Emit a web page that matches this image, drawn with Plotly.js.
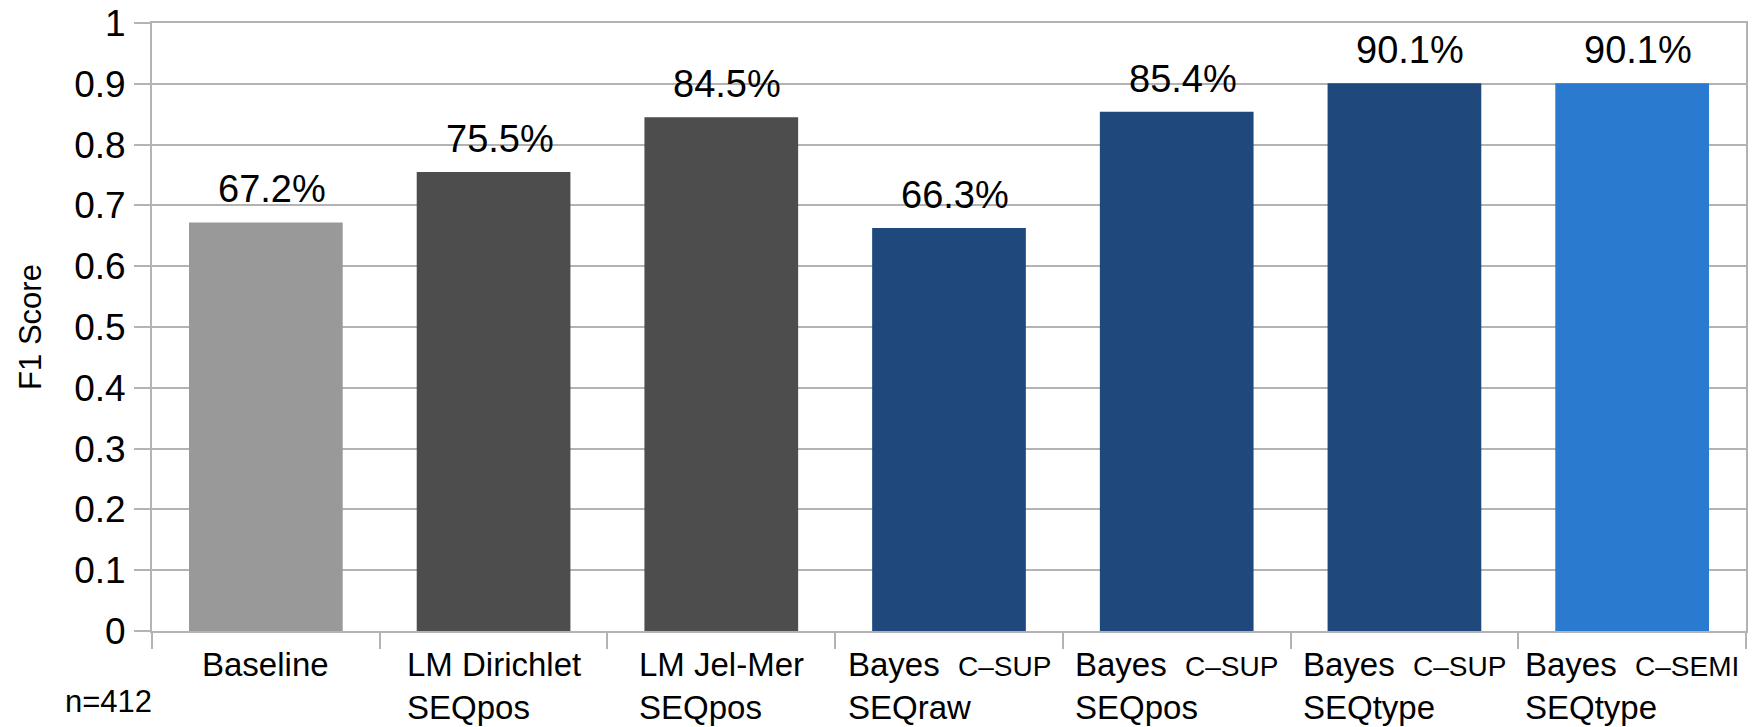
<!DOCTYPE html>
<html>
<head>
<meta charset="utf-8">
<script src="https://cdn.plot.ly/plotly-3.0.1.min.js"></script>
<style>html,body{margin:0;padding:0;background:#fff;}#chart{width:1761px;height:727px;}</style>
</head>
<body>
<div id="chart"></div>
<script>
// ---- data ----
const categories = ["Baseline", "LM Dirichlet SEQpos", "LM Jel-Mer SEQpos", "Bayes C-SUP SEQraw", "Bayes C-SUP SEQpos", "Bayes C-SUP SEQtype", "Bayes C-SEMI SEQtype"];
const labelMain = ["Baseline", "LM Dirichlet", "LM Jel-Mer", "Bayes", "Bayes", "Bayes", "Bayes"];
const labelSub = ["", "", "", "C–SUP", "C–SUP", "C–SUP", "C–SEMI"];
const labelLine2 = ["", "SEQpos", "SEQpos", "SEQraw", "SEQpos", "SEQtype", "SEQtype"];
const f1Values = [0.672, 0.755, 0.845, 0.663, 0.854, 0.901, 0.901];
const barLabels = ["67.2%", "75.5%", "84.5%", "66.3%", "85.4%", "90.1%", "90.1%"];
const barColors = ["#999999", "#4d4d4d", "#4d4d4d", "#1f497d", "#1f497d", "#1f497d", "#2a7bcf"];
const yTickVals = [0, 0.1, 0.2, 0.3, 0.4, 0.5, 0.6, 0.7, 0.8, 0.9, 1];
const yTickText = ["0", "0.1", "0.2", "0.3", "0.4", "0.5", "0.6", "0.7", "0.8", "0.9", "1"];
const yTitle = "F1 Score";
const sampleNote = "n=412";

// ---- styles ----
const FONT = "Liberation Sans, Arial, sans-serif";
const GRID = "#b3b3b3";

const trace = {
  type: "bar",
  x: categories,
  y: f1Values,
  marker: {color: barColors, line: {width: 0}},
  hoverinfo: "none"
};

function catLabel(i) {
  let line1 = labelMain[i];
  if (labelSub[i]) line1 += "\u00a0\u00a0<span style=\"font-size:28px\">" + labelSub[i] + "</span>";
  return labelLine2[i] ? line1 + "<br>" + labelLine2[i] : line1;
}

const annotations = [];
categories.forEach((c, i) => {
  annotations.push({
    x: c, y: f1Values[i], xref: "x", yref: "y",
    text: barLabels[i], showarrow: false,
    xanchor: "center", yanchor: "bottom", yshift: 10, xshift: 6,
    font: {family: FONT, size: 38, color: "#000"}
  });
  annotations.push({
    x: c, y: 0, xref: "x", yref: "paper",
    text: catLabel(i),
    showarrow: false, align: "left",
    xanchor: "center", yanchor: "top", yshift: -13,
    font: {family: FONT, size: 33, color: "#000"}
  });
});
annotations.push({
  x: -0.027, y: 0, xref: "paper", yref: "paper",
  text: sampleNote, showarrow: false,
  xanchor: "center", yanchor: "middle", yshift: -70,
  font: {family: FONT, size: 31, color: "#000"}
});

const layout = {
  width: 1761, height: 727,
  margin: {l: 152, r: 15, t: 23, b: 96, pad: 0},
  paper_bgcolor: "#fff", plot_bgcolor: "#fff",
  bargap: 0.325,
  showlegend: false,
  font: {family: FONT, color: "#000"},
  xaxis: {
    type: "category",
    showticklabels: false,
    tickson: "boundaries",
    ticks: "outside", ticklen: 16, tickwidth: 2, tickcolor: GRID,
    showgrid: false, zeroline: false,
    showline: true, linecolor: GRID, linewidth: 2, mirror: true,
    range: [-0.5, categories.length - 0.5]
  },
  yaxis: {
    range: [0, 1],
    tickmode: "array", tickvals: yTickVals, ticktext: yTickText,
    ticks: "outside", ticklen: 16, tickwidth: 2, tickcolor: GRID,
    showgrid: true, gridcolor: GRID, gridwidth: 2,
    zeroline: false,
    showline: true, linecolor: GRID, linewidth: 2, mirror: true,
    tickfont: {family: FONT, size: 37, color: "#000"},
    ticklabelstandoff: 1,
    title: {text: yTitle, font: {family: FONT, size: 31, color: "#000"}, standoff: 23}
  },
  annotations: annotations
};

Plotly.newPlot("chart", [trace], layout, {staticPlot: true, displayModeBar: false});
</script>
</body>
</html>
